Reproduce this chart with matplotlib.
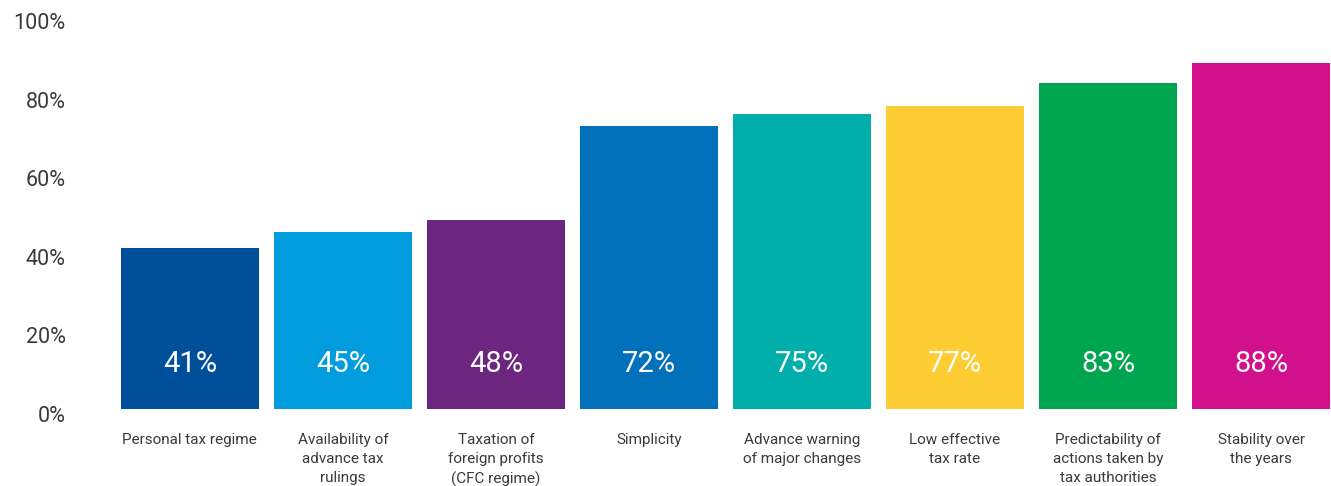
import numpy as np
import matplotlib.pyplot as plt
import matplotlib.transforms as mtransforms

categories = ['Personal tax regime', 'Availability of\nadvance tax\nrulings',
              'Taxation of\nforeign profits\n(CFC regime)', 'Simplicity',
              'Advance warning\nof major changes', 'Low effective\ntax rate',
              'Predictability of\nactions taken by\ntax authorities',
              'Stability over\nthe years']
values = [41, 45, 48, 72, 75, 77, 83, 88]
colors = ['#004f9a', '#009cde', '#6c2680', '#0071ba', '#00afa9',
          '#fdcd33', '#00a64f', '#d20f8c']
yticks = [0, 20, 40, 60, 80, 100]

plt.rcParams['font.family'] = ['Roboto', 'DejaVu Sans']

fig = plt.figure(figsize=(13.31, 4.86), dpi=100)
W, H = 1331, 486
# axes in pixels: left 121, right 1330, baseline at y=409, 100% at y=16
ax = fig.add_axes([121 / W, (H - 409) / H, 1209 / W, 393 / H])

x = np.arange(len(values))
ax.bar(x, values, width=0.9, color=colors)
ax.set_xlim(-0.45, 7.45)
ax.set_ylim(0, 100)

for xi, v in zip(x, values):
    ax.text(xi, 11.5, f'{v}%', ha='center', va='center', color='white',
            fontsize=21)

for s in ax.spines.values():
    s.set_visible(False)

ax.set_yticks(yticks)
ax.set_yticklabels([f'{t}%' for t in yticks], fontsize=15.5, color='#3a3a3a')
ax.tick_params(axis='y', length=0, pad=40)
offset = mtransforms.ScaledTranslation(0, -5 / 100, fig.dpi_scale_trans)
for lab in ax.get_yticklabels():
    lab.set_transform(lab.get_transform() + offset)

ax.set_xticks(x)
ax.set_xticklabels(categories, fontsize=11, color='#3a3a3a',
                   linespacing=1.45, va='top')
ax.tick_params(axis='x', length=0, pad=17.5)

fig.savefig('out.png', dpi=100)
